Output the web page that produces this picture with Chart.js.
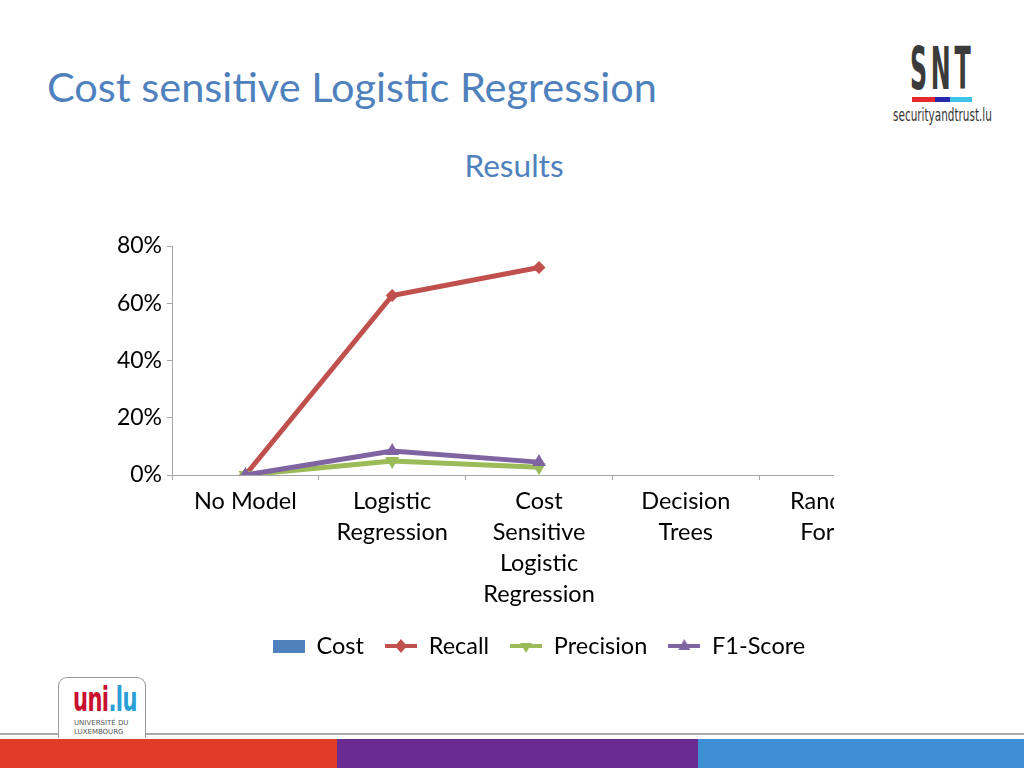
<!DOCTYPE html>
<html>
<head>
<meta charset="utf-8">
<script src="https://cdn.jsdelivr.net/npm/chart.js@4/dist/chart.umd.min.js"></script>
<style>
  body { margin: 0; }
  #slide { position: relative; width: 1024px; height: 768px; overflow: hidden; background: #fff; font-family: Lato, sans-serif; }
  #title { position: absolute; left: 47px; top: 66px; font-size: 41.5px; line-height: 41.5px; color: #4F81BD; white-space: nowrap; }
  #subtitle { position: absolute; left: 0; width: 1028px; top: 150px; font-size: 31.6px; line-height: 31.6px; color: #4F81BD; text-align: center; }
  #chartBox { position: absolute; left: 0; top: 200px; width: 834px; height: 470px; overflow: hidden; }
  #snt { position: absolute; left: 910px; top: 40px; font-family: "DejaVu Sans", sans-serif; font-weight: bold; font-size: 58px; line-height: 58px; color: #3b3b3b; transform: scaleX(0.41); transform-origin: left top; letter-spacing: 9px; }
  .bar { position: absolute; top: 97px; height: 5px; }
  #sntUrl { position: absolute; left: 893px; top: 107px; font-family: "DejaVu Sans", sans-serif; font-size: 17px; line-height: 17px; color: #333; transform: scaleX(0.615); transform-origin: left top; white-space: nowrap; }
  #rule { position: absolute; left: 0; top: 733px; width: 1024px; height: 2px; background: #aaa; }
  #tab { position: absolute; left: 58px; top: 677px; width: 86px; height: 60px; border: 1.5px solid #9a9a9a; border-bottom: none; border-radius: 9px 9px 0 0; background: #fff; }
  #uni { position: absolute; left: 14px; top: 4px; font-family: "DejaVu Sans", sans-serif; font-weight: bold; font-size: 34px; line-height: 34px; transform: scaleX(0.62); transform-origin: left top; letter-spacing: -1px; }
  .small { position: absolute; left: 15px; font-family: "DejaVu Sans", sans-serif; font-size: 7px; line-height: 7px; color: #555; white-space: nowrap; }
  .foot { position: absolute; top: 739px; height: 29px; }
</style>
</head>
<body>
<div id="slide">
  <div id="title">Cost sensitive Logistic Regression</div>
  <div id="subtitle">Results</div>

  <div id="snt">SNT</div>
  <div class="bar" style="left:912px;width:23px;background:#e8262d"></div>
  <div class="bar" style="left:935px;width:15px;background:#2626a8"></div>
  <div class="bar" style="left:950px;width:22px;background:#3fc3ea"></div>
  <div id="sntUrl">securityandtrust.lu</div>

  <div id="chartBox"><canvas id="chart" width="1024" height="470"></canvas></div>

  <div id="rule"></div>
  <div id="tab">
    <div id="uni"><span style="color:#c8102e">uni</span><span style="color:#2a9fd6">.lu</span></div>
    <div class="small" style="top:42px">UNIVERSITÉ DU</div>
    <div class="small" style="top:51px">LUXEMBOURG</div>
  </div>
  <div class="foot" style="left:0;width:337px;background:#e03c28"></div>
  <div class="foot" style="left:337px;width:361px;background:#6a2c91"></div>
  <div class="foot" style="left:698px;width:326px;background:#3f8fd6"></div>
</div>

<script>
// categories and series
const categories = [
  ["No Model"],
  ["Logistic", "Regression"],
  ["Cost", "Sensitive", "Logistic", "Regression"],
  ["Decision", "Trees"],
  ["Random", "Forest"]
];
const cost = [null, null, null, null, null];
const recall = [0, 0.627, 0.725, null, null];
const precision = [0, 0.049, 0.027, null, null];
const f1score = [0, 0.084, 0.045, null, null];

const blue = "#4F81BD", red = "#C0504D", green = "#9BBB59", purple = "#8064A2";

// legend icons: line with marker, or box for the bar series
function icon(color, shape) {
  const c = document.createElement("canvas");
  c.width = 32; c.height = 16;
  const g = c.getContext("2d");
  g.fillStyle = color;
  if (shape === "box") {
    g.fillRect(0, 2, 32, 13);
    return c;
  }
  g.strokeStyle = color;
  g.lineWidth = 4;
  g.beginPath(); g.moveTo(0, 8); g.lineTo(32, 8); g.stroke();
  g.beginPath();
  if (shape === "diamond") {
    g.moveTo(16, 1); g.lineTo(22, 8); g.lineTo(16, 15); g.lineTo(10, 8);
  } else if (shape === "down") {
    g.moveTo(10, 5); g.lineTo(22, 5); g.lineTo(16, 15);
  } else {
    g.moveTo(16, 1); g.lineTo(22, 12); g.lineTo(10, 12);
  }
  g.closePath(); g.fill();
  return c;
}
const icons = [icon(blue, "box"), icon(red, "diamond"), icon(green, "down"), icon(purple, "up")];

Chart.defaults.font.family = "Lato";
Chart.defaults.color = "#000";

function draw() {
  new Chart(document.getElementById("chart"), {
    type: "bar",
    data: {
      labels: categories,
      datasets: [
        { label: "Cost", data: cost, backgroundColor: blue, order: 4 },
        { type: "line", label: "Recall", data: recall, borderColor: red, backgroundColor: red,
          borderWidth: 5, tension: 0, pointStyle: "rectRot", pointRadius: 3, order: 3 },
        { type: "line", label: "Precision", data: precision, borderColor: green, backgroundColor: green,
          borderWidth: 5, tension: 0, pointStyle: "triangle", rotation: 180, pointRadius: 3, order: 2 },
        { type: "line", label: "F1-Score", data: f1score, borderColor: purple, backgroundColor: purple,
          borderWidth: 5, tension: 0, pointStyle: "triangle", pointRadius: 3, order: 1 }
      ]
    },
    options: {
      responsive: false,
      animation: false,
      layout: { padding: { top: 46, right: 118, bottom: 2.25, left: 0 } },
      plugins: {
        tooltip: { enabled: false },
        legend: {
          position: "bottom",
          fullSize: false,
          labels: {
            usePointStyle: true,
            pointStyleWidth: 32,
            padding: 21,
            font: { size: 23.5 },
            color: "#000",
            sort: (a, b) => a.datasetIndex - b.datasetIndex,
            generateLabels: chart => {
              const items = Chart.defaults.plugins.legend.labels.generateLabels(chart);
              items.forEach(it => { it.pointStyle = icons[it.datasetIndex]; it.rotation = 0; });
              return items;
            }
          }
        }
      },
      scales: {
        x: {
          offset: true,
          grid: { offset: true, drawOnChartArea: false, tickLength: 5, color: "#a6a6a6" },
          border: { color: "#a6a6a6" },
          ticks: { maxRotation: 0, autoSkip: false, font: { size: 23.5, lineHeight: 1.32 }, padding: 6 },
          afterFit: s => { s.height = 138.25; }
        },
        y: {
          min: 0,
          max: 0.8,
          grid: { drawOnChartArea: false, tickLength: 5, color: "#a6a6a6" },
          border: { color: "#a6a6a6" },
          ticks: {
            stepSize: 0.1,
            font: { size: 23 },
            padding: 5,
            callback: v => {
              const p = Math.round(v * 100);
              return p % 20 === 0 ? p + "%" : "";
            }
          },
          afterFit: s => { s.width = 172; }
        }
      }
    }
  });
}

document.fonts.load("22px Lato").then(draw, draw);
</script>
</body>
</html>
